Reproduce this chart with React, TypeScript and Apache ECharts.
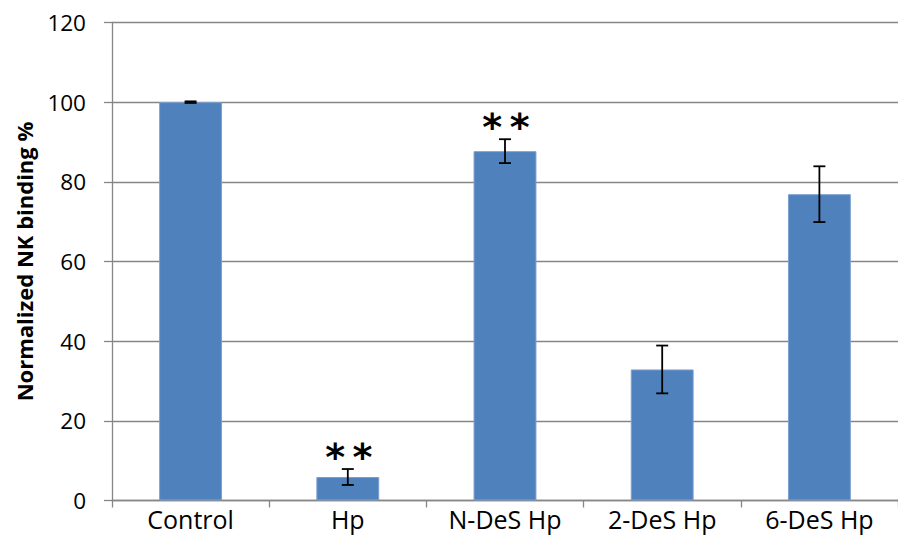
import React, { useEffect, useRef } from "react";
import * as echarts from "echarts";

const categories = ["Control", "Hp", "N-DeS Hp", "2-DeS Hp", "6-DeS Hp"];
const values = [100, 5.9, 87.7, 32.9, 76.9];
const errors = [0.2, 2, 3, 6, 7];
const stars = ["", "*\u2009*", "*\u2009*", "", ""];
const yTicks = { min: 0, max: 120, interval: 20 };

const FONT = "'Open Sans', 'Liberation Sans', sans-serif";

export default function App() {
  const ref = useRef<HTMLDivElement>(null);
  useEffect(() => {
    document.body.style.margin = "0";
    const chart = echarts.init(ref.current!, null, { renderer: "svg" });
    const errData = categories.map((_, i) => [i, values[i] - errors[i], values[i] + errors[i]]);
    chart.setOption({
      animation: false,
      backgroundColor: "#ffffff",
      grid: { left: 112, top: 22.5, width: 792, height: 478, containLabel: false },
      xAxis: {
        type: "category",
        data: categories,
        axisLine: { lineStyle: { color: "#868686", width: 1.3 } },
        axisTick: { show: true, length: 7, lineStyle: { color: "#868686", width: 1.3 } },
        axisLabel: { color: "#000", fontSize: 25, fontFamily: FONT, margin: 6 },
      },
      yAxis: {
        type: "value",
        min: yTicks.min,
        max: yTicks.max,
        interval: yTicks.interval,
        name: "Normalized NK binding %",
        nameLocation: "middle",
        nameGap: 77,
        nameRotate: 90,
        nameTextStyle: { color: "#000", fontSize: 22, fontWeight: "bold", fontFamily: FONT },
        axisLine: { show: true, lineStyle: { color: "#868686", width: 1.3 } },
        axisTick: { show: true, length: 8, lineStyle: { color: "#868686", width: 1.3 } },
        axisLabel: { color: "#000", fontSize: 22.5, fontFamily: FONT, margin: 26 },
        splitLine: { show: true, lineStyle: { color: "#868686", width: 1.3 } },
      },
      series: [
        {
          type: "bar",
          data: values,
          barWidth: "40%",
          itemStyle: { color: "#4F81BD", borderColor: "#7BA0CF", borderWidth: 1 },
        },
        {
          type: "custom",
          data: errData,
          z: 10,
          renderItem: (params: any, api: any) => {
            const i = api.value(0);
            const lo = api.coord([i, api.value(1)]);
            const hi = api.coord([i, api.value(2)]);
            const star = stars[params.dataIndex];
            const cap = 6;
            const st = { stroke: "#000", lineWidth: 1.8 };
            const children: any[] = [
              { type: "line", shape: { x1: hi[0], y1: hi[1], x2: lo[0], y2: lo[1] }, style: st },
              { type: "line", shape: { x1: hi[0] - cap, y1: hi[1], x2: hi[0] + cap, y2: hi[1] }, style: st },
              { type: "line", shape: { x1: lo[0] - cap, y1: lo[1], x2: lo[0] + cap, y2: lo[1] }, style: st },
            ];
            if (star) {
              children.push({
                type: "text",
                x: hi[0] + 1,
                y: hi[1] + 7,
                style: {
                  text: star,
                  fill: "#000",
                  fontSize: 38,
                  fontFamily: "'DejaVu Sans', sans-serif",
                  fontWeight: "bold",
                  align: "center",
                  verticalAlign: "bottom",
                },
              });
            }
            return { type: "group", children };
          },
        },
      ],
    });
    return () => chart.dispose();
  }, []);
  return <div ref={ref} style={{ width: 898, height: 538 }} />;
}
